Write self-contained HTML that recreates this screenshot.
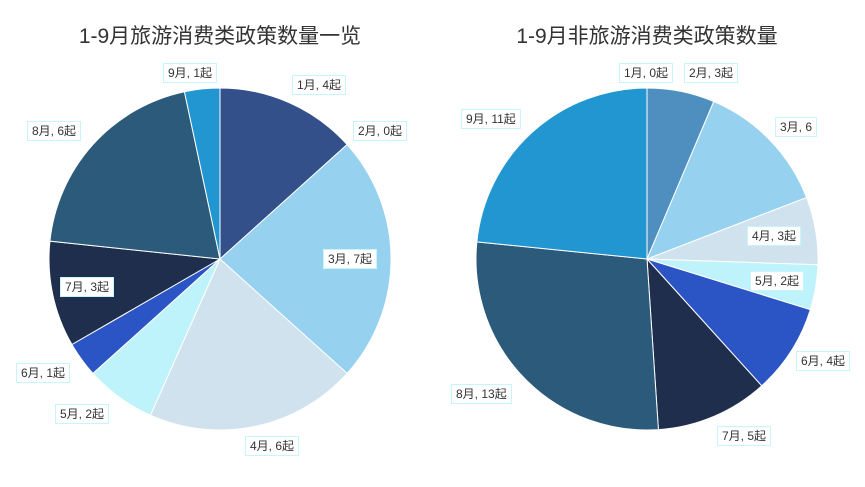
<!DOCTYPE html>
<html><head><meta charset="utf-8"><style>
body{margin:0;width:865px;height:487px;background:#fff;position:relative;overflow:hidden;font-family:"Liberation Sans","Noto Sans CJK SC",sans-serif}
.t{position:absolute;top:20px;font-size:21px;color:#333;width:430px;text-align:center}
.l{position:absolute;font-size:12px;color:#333;background:#fff;border:1px solid #c8f4fb;padding:2px 4px;line-height:14px;white-space:nowrap}
</style></head><body>
<div class="t" style="left:5px">1-9月旅游消费类政策数量一览</div>
<div class="t" style="left:432px">1-9月非旅游消费类政策数量</div>
<svg id="s" width="865" height="487" style="position:absolute;left:0;top:0"></svg>
<div class="l" style="left:292px;top:75px">1月, 4起</div>
<div class="l" style="left:353px;top:121px">2月, 0起</div>
<div class="l" style="left:323px;top:249px">3月, 7起</div>
<div class="l" style="left:245px;top:436px">4月, 6起</div>
<div class="l" style="left:55px;top:404px">5月, 2起</div>
<div class="l" style="left:16px;top:363px">6月, 1起</div>
<div class="l" style="left:60px;top:277px">7月, 3起</div>
<div class="l" style="left:27px;top:121px">8月, 6起</div>
<div class="l" style="left:163px;top:63px">9月, 1起</div>
<div class="l" style="left:619px;top:63px">1月, 0起</div>
<div class="l" style="left:684px;top:63px">2月, 3起</div>
<div class="l" style="left:775px;top:117px">3月, 6</div>
<div class="l" style="left:747px;top:226px">4月, 3起</div>
<div class="l" style="left:750px;top:271px">5月, 2起</div>
<div class="l" style="left:796px;top:351px">6月, 4起</div>
<div class="l" style="left:717px;top:426px">7月, 5起</div>
<div class="l" style="left:451px;top:384px">8月, 13起</div>
<div class="l" style="left:461px;top:109px">9月, 11起</div>
<script>
var s=document.getElementById('s'),h='';
function pie(cx,cy,r,d,c){var t=d.reduce((a,b)=>a+b,0),a=0;
d.forEach(function(v,i){if(!v)return;var a2=a+v/t*2*Math.PI;
var x1=cx+r*Math.sin(a),y1=cy-r*Math.cos(a),x2=cx+r*Math.sin(a2),y2=cy-r*Math.cos(a2);
h+='<path d="M'+cx+' '+cy+'L'+x1+' '+y1+'A'+r+' '+r+' 0 '+(a2-a>Math.PI?1:0)+' 1 '+x2+' '+y2+'Z" fill="'+c[i]+'" stroke="#fff" stroke-width="1"/>';a=a2;});}
pie(220,259,171,[4,0,7,6,2,1,3,6,1],['#34508a','#4f8fc0','#96d1ef','#cfe2ee','#bff3fb','#2b54c4','#1f2e4c','#2b5a7a','#2196d0']);
pie(647,259,171,[0,3,6,3,2,4,5,13,11],['#34508a','#4f8fc0','#96d1ef','#cfe2ee','#bff3fb','#2b54c4','#1f2e4c','#2b5a7a','#2196d0']);
s.innerHTML=h;
</script>
</body></html>
